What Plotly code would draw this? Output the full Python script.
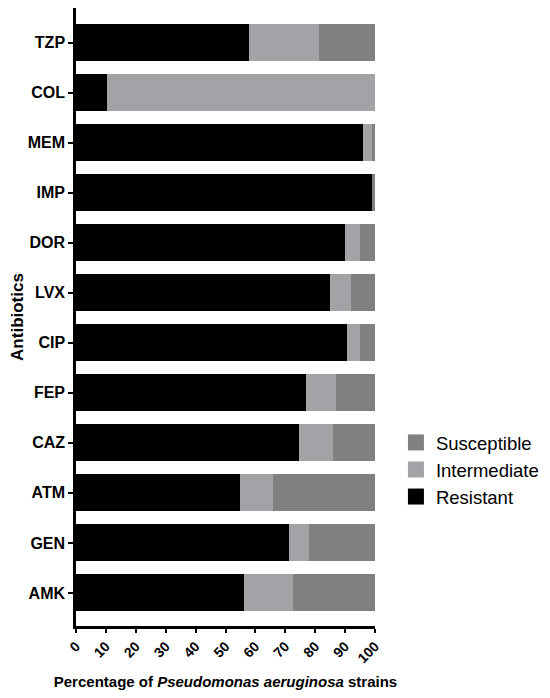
import plotly.graph_objects as go

antibiotics = ["TZP", "COL", "MEM", "IMP", "DOR", "LVX", "CIP", "FEP", "CAZ", "ATM", "GEN", "AMK"]
resistant = [58.0, 10.3, 96.0, 99.0, 89.8, 84.8, 90.7, 77.0, 74.6, 54.7, 71.4, 56.2]
intermediate = [23.4, 89.7, 3.1, 0.0, 5.1, 7.2, 4.2, 10.0, 11.5, 11.1, 6.4, 16.3]
susceptible = [18.6, 0.0, 0.9, 1.0, 5.1, 8.0, 5.1, 13.0, 13.9, 34.2, 22.2, 27.5]
x_ticks = [0, 10, 20, 30, 40, 50, 60, 70, 80, 90, 100]
series_names = ["Resistant", "Intermediate", "Susceptible"]
series_colors = ["#000000", "#a3a3a7", "#808080"]

FONT = "Arial, Liberation Sans, sans-serif"

fig = go.Figure()
for name, vals, col in zip(series_names, [resistant, intermediate, susceptible], series_colors):
    fig.add_trace(go.Bar(y=antibiotics, x=vals, name=name, orientation="h",
                         marker=dict(color=col, line=dict(width=0)), showlegend=False))
# legend entries with larger square symbols
for name, col in zip(series_names, series_colors):
    fig.add_trace(go.Scatter(x=[None], y=[None], mode="markers", name=name,
                             marker=dict(symbol="square", size=16, color=col, line=dict(width=0)),
                             showlegend=True))

fig.update_layout(
    barmode="stack",
    bargap=0.26,
    width=534, height=682,
    margin=dict(l=68, r=167, t=0, b=64, autoexpand=False),
    plot_bgcolor="white", paper_bgcolor="white",
    font=dict(family=FONT, color="black"),
    showlegend=True,
    legend=dict(traceorder="reversed", x=1.070, xanchor="left", y=0.327, yanchor="top",
                font=dict(size=18.5, family=FONT), itemwidth=30, tracegroupgap=0,
                bgcolor="rgba(0,0,0,0)"),
    xaxis=dict(range=[0, 100], tickvals=x_ticks, ticktext=[str(v) for v in x_ticks],
               tickangle=-45, ticks="outside", ticklen=4, tickwidth=2, tickcolor="black",
               showline=True, linecolor="black", linewidth=2.5, showgrid=False, zeroline=False,
               tickfont=dict(size=14, family=FONT, weight="bold"),
               title=dict(text="Percentage of <i>Pseudomonas aeruginosa</i> strains",
                          font=dict(size=15, family=FONT, weight="bold"), standoff=13)),
    yaxis=dict(type="category", categoryorder="array", categoryarray=antibiotics,
               range=[11.66, -0.69], ticks="outside", ticklen=5, tickwidth=2, tickcolor="black",
               showline=True, linecolor="black", linewidth=2.5, showgrid=False, zeroline=False,
               tickfont=dict(size=16, family=FONT, weight="bold"),
               title=dict(text="Antibiotics", font=dict(size=17, family=FONT, weight="bold"),
                          standoff=6)),
)

fig.write_html("out.html")
